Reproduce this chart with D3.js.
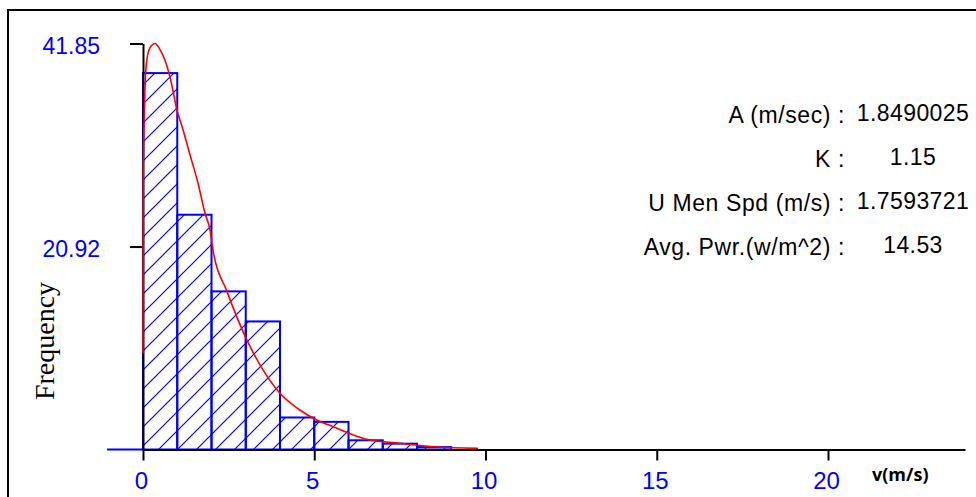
<!DOCTYPE html>
<html>
<head>
<meta charset="utf-8">
<script src="https://cdn.jsdelivr.net/npm/d3@7"></script>
<style>
  html, body { margin: 0; padding: 0; background: #fff; }
  svg { display: block; }
</style>
</head>
<body>
<svg id="chart" width="976" height="497"></svg>
<script>
// histogram bins (m/s) and frequencies
const binEdges = [0, 1, 2, 3, 4, 5, 6, 7, 8, 9];
const frequencies = [38.8, 24.2, 16.3, 13.2, 3.3, 2.85, 0.95, 0.6, 0.25];

// fitted curve
const curveSpeed = [0, 0.005, 0.1, 0.2, 0.35, 0.5, 0.64, 0.84, 0.99, 1.14, 1.37, 1.61, 1.81, 1.96,
  2.05, 2.44, 3.03, 3.42, 4.0, 4.58, 5.07, 5.55, 6.53, 7.5, 8.47, 9.78];
const curveFreq = [9.9, 28.8, 39.8, 41.4, 41.85, 41.2, 40.15, 37.6, 35.0, 33.3, 30.4, 27.4, 24.35, 22.6,
  20.4, 16.4, 11.3, 8.7, 5.8, 4.07, 3.04, 2.35, 1.05, 0.64, 0.29, 0.12];

const xTicks = [0, 5, 10, 15, 20];
const yTicks = [20.92, 41.85];
const xDomain = [0, 24];
const baselineStart = -1.05;

const statLabels = ["A (m/sec) :", "K :", "U Men Spd (m/s) :", "Avg. Pwr.(w/m^2) :"];
const statValues = ["1.8490025", "1.15", "1.7593721", "14.53"];

const blue = "#0000ff";
const red = "#ff0000";

let svg = d3.select("#chart");

let x = d3.scaleLinear().domain(xDomain).range([143, 965]);
let y = d3.scaleLinear().domain([0, 41.85]).range([449.5, 43.5]);

// frame (only top and left edges are visible)
svg.append("path")
    .attr("d", "M8,497 L8,10 L976,10")
    .attr("fill", "none")
    .attr("stroke", "#000")
    .attr("stroke-width", 2);

// hatch pattern
let defs = svg.append("defs");
let pat = defs.append("pattern")
    .attr("id", "hatch")
    .attr("patternUnits", "userSpaceOnUse")
    .attr("width", 19)
    .attr("height", 19);
pat.append("path")
    .attr("d", "M-2,2 L2,-2 M0,19 L19,0 M17,21 L21,17")
    .attr("stroke", blue)
    .attr("stroke-width", 1.2);

// blue baseline stub left of the axis
svg.append("line")
    .attr("x1", x(baselineStart)).attr("x2", x(0))
    .attr("y1", y(0)).attr("y2", y(0))
    .attr("stroke", blue)
    .attr("stroke-width", 2);

// bars
svg.append("g")
    .selectAll("rect")
    .data(frequencies)
    .enter()
    .append("rect")
    .attr("x", (d, i) => x(binEdges[i]))
    .attr("width", (d, i) => x(binEdges[i + 1]) - x(binEdges[i]))
    .attr("y", d => y(d))
    .attr("height", d => y(0) - y(d))
    .attr("fill", "url(#hatch)")
    .attr("stroke", blue)
    .attr("stroke-width", 2);

// axes
let yAxis = svg.append("g")
    .attr("transform", `translate(${x(0)},0)`)
    .call(d3.axisLeft(y).tickValues(yTicks).tickSize(13).tickSizeOuter(0).tickPadding(30)
        .tickFormat(d => d.toFixed(2)));

let xAxis = svg.append("g")
    .attr("transform", `translate(0,${y(0)})`)
    .call(d3.axisBottom(x).tickValues(xTicks).tickSize(11).tickSizeOuter(0).tickPadding(11)
        .tickFormat(d3.format("d")));

[yAxis, xAxis].forEach(g => {
    g.select(".domain").attr("stroke", "#000").attr("stroke-width", 2);
    g.selectAll(".tick line").attr("stroke", "#000").attr("stroke-width", 2);
    g.selectAll(".tick text")
        .attr("fill", blue)
        .style("font-family", "'Liberation Sans', Arial, sans-serif")
        .style("font-size", "23px");
});
yAxis.selectAll(".tick text").attr("dy", "0.45em");
xAxis.selectAll(".tick text").style("font-size", "24px").attr("dx", "-2");

// fitted curve
let line = d3.line()
    .x((d, i) => x(curveSpeed[i]))
    .y(d => y(d))
    .curve(d3.curveMonotoneX);

svg.append("path")
    .datum(curveFreq)
    .attr("d", line)
    .attr("fill", "none")
    .attr("stroke", red)
    .attr("stroke-width", 1.6);

// axis titles
svg.append("text")
    .attr("transform", "translate(54,341) rotate(-90)")
    .attr("text-anchor", "middle")
    .style("font-family", "'Liberation Serif', 'Times New Roman', serif")
    .style("font-size", "28px")
    .text("Frequency");

svg.append("text")
    .attr("x", 872)
    .attr("y", 481)
    .style("font-family", "'Open Sans', 'Liberation Sans', Arial, sans-serif")
    .style("font-size", "18px")
    .style("font-weight", "bold")
    .text("v(m/s)");

// statistics panel
let stats = svg.append("g")
    .style("font-family", "'Liberation Sans', Arial, sans-serif")
    .style("font-size", "23px")
    .attr("fill", "#000");

stats.selectAll(".lbl")
    .data(statLabels)
    .enter()
    .append("text")
    .attr("class", "lbl")
    .attr("x", 845)
    .attr("y", (d, i) => 123 + i * 44)
    .attr("text-anchor", "end")
    .style("letter-spacing", "0.6px")
    .text(d => d);

stats.selectAll(".val")
    .data(statValues)
    .enter()
    .append("text")
    .attr("class", "val")
    .attr("x", 913)
    .attr("y", (d, i) => 121 + i * 44)
    .attr("text-anchor", "middle")
    .style("letter-spacing", "0.4px")
    .text(d => d);
</script>
</body>
</html>
